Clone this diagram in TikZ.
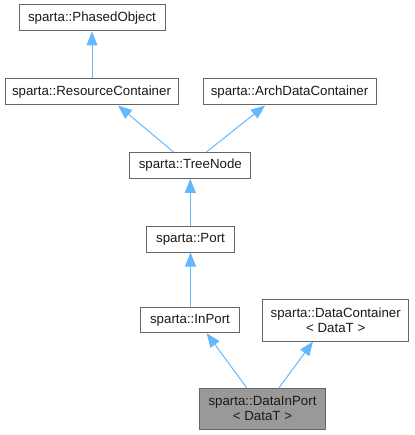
\documentclass[tikz,border=0pt]{standalone}
\usepackage{fontspec}
\setmainfont{Liberation Sans}
\usetikzlibrary{arrows.meta}
\definecolor{edgeblue}{HTML}{63B8FF}
\definecolor{boxgray}{HTML}{666666}
\definecolor{fillgray}{HTML}{999999}
\definecolor{txt}{HTML}{1A1A1A}
\tikzset{
  box/.style={draw=boxgray, line width=1pt, fill=white, inner sep=0pt, align=center,
    text=txt, font=\fontsize{13.3}{14.8}\selectfont, minimum height=26pt},
  cur/.style={box, fill=fillgray},
  edge/.style={draw=edgeblue, line width=1pt, -{Triangle[length=14pt,width=11pt]}}
}
\begin{document}
\begin{tikzpicture}[x=1pt,y=-1pt]
\useasboundingbox (0,0) rectangle (414,435);
\node[box, minimum width=146pt] (PO) at (92,18) {sparta::PhasedObject};
\node[box, minimum width=173pt] (RC) at (91.5,92) {sparta::ResourceContainer};
\node[box, minimum width=173pt] (ADC) at (289.5,92) {sparta::ArchDataContainer};
\node[box, minimum width=120.7pt] (TN) at (190.3,165.3) {sparta::TreeNode};
\node[box, minimum width=87.6pt] (PT) at (190.5,239) {sparta::Port};
\node[box, minimum width=98.6pt, minimum height=25.4pt] (IP) at (190,320) {sparta::InPort};
\node[box, minimum width=146pt, minimum height=41.7pt] (DC) at (335.7,320.2) {sparta::DataContainer\\< DataT >};
\node[cur, minimum width=126.4pt, minimum height=40.7pt] (DIP) at (262.5,408.7) {sparta::DataInPort\\< DataT >};
\draw[edge] (PO.south |- RC.north) -- (PO.south);
\draw[edge] ([xshift=-17pt]TN.north) -- ([xshift=26.5pt]RC.south);
\draw[edge] ([xshift=16.4pt]TN.north) -- ([xshift=-24.5pt]ADC.south);
\draw[edge] (TN.south |- PT.north) -- (TN.south);
\draw[edge] (PT.south |- IP.north) -- (PT.south);
\draw[edge] ([xshift=-15.8pt]DIP.north) -- ([xshift=16.7pt]IP.south);
\draw[edge] ([xshift=16.5pt]DIP.north) -- ([xshift=-22.7pt]DC.south);
\end{tikzpicture}
\end{document}
